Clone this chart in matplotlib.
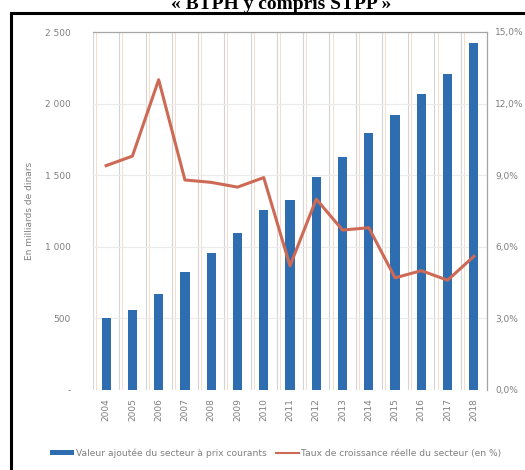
import numpy as np
import matplotlib
matplotlib.use("Agg")
from matplotlib import pyplot as plt
from matplotlib.patches import Patch
from matplotlib.lines import Line2D

# Données BTPH y compris STPP
annees = ["2004", "2005", "2006", "2007", "2008", "2009", "2010", "2011",
          "2012", "2013", "2014", "2015", "2016", "2017", "2018"]
valeur_ajoutee = [500, 560, 670, 825, 955, 1095, 1255, 1330,
                  1490, 1630, 1795, 1920, 2070, 2205, 2420]
taux_croissance = [9.4, 9.8, 13.0, 8.8, 8.7, 8.5, 8.9, 5.2,
                   8.0, 6.7, 6.8, 4.7, 5.0, 4.6, 5.6]
ticks_gauche = ["-", "500", "1 000", "1 500", "2 000", "2 500"]
ticks_droite = ["0,0%", "3,0%", "6,0%", "9,0%", "12,0%", "15,0%"]

bleu = "#2E6DB0"
rouge = "#CC6A55"
gris = "#7F7F7F"

fig = plt.figure(figsize=(5.25, 4.7), dpi=100)
ax = fig.add_axes([93/525, 1 - 390/470, 394/525, 358/470])
x = np.arange(len(annees))

# grille
for xi in np.arange(-0.5, len(annees), 1.0):
    ax.axvline(xi, color="#D4D4D4", lw=0.8, zorder=0)
    ax.axvline(xi + 0.12, color="#F6DCCB", lw=0.7, zorder=0)
for yv in range(500, 2500, 500):
    ax.axhline(yv, color="#EBEBEB", lw=0.8, zorder=0)

ax.bar(x, valeur_ajoutee, width=0.35, color=bleu, zorder=2)
ax.set_xlim(-0.5, len(annees) - 0.5)
ax.set_ylim(0, 2500)
ax.set_yticks(range(0, 2501, 500))
ax.set_yticklabels(ticks_gauche)
ax.set_xticks(x)
ax.set_xticklabels(annees, rotation=90)
ax.tick_params(axis="both", length=0, labelsize=6.5, labelcolor=gris)
ax.tick_params(axis="y", pad=16)
ax.tick_params(axis="x", pad=6)
for s in ax.spines.values():
    s.set_color("#A6A6A6")
    s.set_linewidth(0.9)
ax.spines["bottom"].set_visible(False)
ax.spines["left"].set_visible(False)
ax.set_ylabel("En milliards de dinars", fontsize=6.5, color=gris, labelpad=8)

ax2 = ax.twinx()
ax2.plot(x, taux_croissance, color=rouge, lw=2.2, zorder=3)
ax2.set_ylim(0, 15)
ax2.set_yticks(range(0, 16, 3))
ax2.set_yticklabels(ticks_droite)
ax2.tick_params(axis="y", length=0, labelsize=6.5, labelcolor=gris, pad=6)
for s in ax2.spines.values():
    s.set_visible(False)

# légende
handles = [Patch(facecolor=bleu, edgecolor="none"),
           Line2D([0], [0], color=rouge, lw=1.5)]
labels = ["Valeur ajoutée du secteur à prix courants",
          "Taux de croissance réelle du secteur (en %)"]
fig.legend(handles, labels, loc="center", bbox_to_anchor=(0.525, 1 - 453/470),
           ncol=2, frameon=False, fontsize=6.6, labelcolor=gris,
           handlelength=2.6, handleheight=0.5, handletextpad=0.2, columnspacing=1.0)

# cadre noir (haut et gauche)
fig.add_artist(Line2D([11/525, 11/525], [0, 1 - 13/470], transform=fig.transFigure,
                      color="black", lw=2.2))
fig.add_artist(Line2D([11/525, 1], [1 - 13/470, 1 - 13/470], transform=fig.transFigure,
                      color="black", lw=2.2))

fig.text(0.535, 1 - 9/470, "« BTPH y compris STPP »", ha="center", va="baseline",
         fontsize=14, fontweight="bold", family="Liberation Serif")

fig.savefig("out.png", dpi=100)
